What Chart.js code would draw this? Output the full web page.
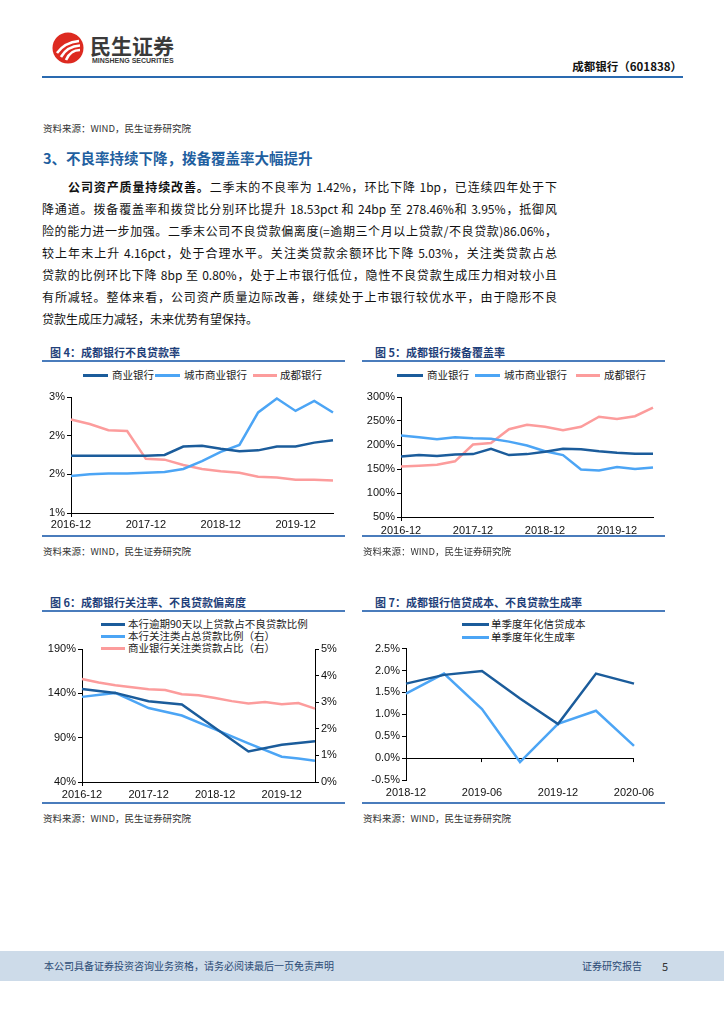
<!DOCTYPE html>
<html>
<head>
<meta charset="utf-8">
<script src="https://cdn.jsdelivr.net/npm/chart.js@4.4.1/dist/chart.umd.min.js"></script>
<style>
  body { margin: 0; width: 724px; height: 1024px; position: relative; background: #fff; overflow: hidden;
         font-family: "Noto Sans CJK SC", "Noto Sans", sans-serif; color: #111; }
  .abs { position: absolute; white-space: nowrap; }
  .rule { position: absolute; height: 2px; background: #4a7cbc; }
  .ctitle { position: absolute; font-size: 11px; font-weight: bold; color: #1f3f7a; line-height: 14px; }
  .src { position: absolute; font-size: 9.5px; color: #333; line-height: 12px; }
  .para { position: absolute; font-size: 12px; line-height: 16px; text-align: justify; text-align-last: justify; white-space: nowrap; }
  .lg { position: absolute; font-size: 10.5px; line-height: 14px; color: #222; white-space: nowrap; }
  .lg i { position: absolute; height: 3px; }
  canvas { position: absolute; }
</style>
</head>
<body>

<!-- header -->
<svg class="abs" style="left:52px;top:32px" width="32" height="32" viewBox="0 0 32 32">
  <circle cx="16" cy="16" r="15.5" fill="#dd2a20"/>
  <path d="M5 21 C10 14 17 10 27 9" stroke="#fff" stroke-width="2.6" fill="none"/>
  <path d="M9 25 C13 18 19 14 28 13.5" stroke="#fff" stroke-width="2.6" fill="none"/>
  <path d="M14 28 C17 21 21 18 28 18" stroke="#fff" stroke-width="2.6" fill="none"/>
</svg>
<div class="abs" style="left:90px;top:32px;font-size:21px;font-weight:bold;color:#3a3a3a;line-height:26px;">民生证券</div>
<div class="abs" style="left:92px;top:57px;font-size:7px;font-weight:bold;color:#3a3a3a;line-height:8px;font-family:'Liberation Sans',Arial,sans-serif;">MINSHENG SECURITIES</div>
<div class="abs" style="right:42px;top:58px;font-size:11.5px;font-weight:bold;color:#111;line-height:16px;">成都银行（601838）</div>
<div class="rule" style="left:42px;top:76px;width:641px;background:#2a6ab0;"></div>

<div class="src" style="left:43px;top:122px;">资料来源：WIND，民生证券研究院</div>

<!-- section text -->
<div class="abs" style="left:43px;top:148px;font-size:14.5px;font-weight:bold;color:#1f5fa0;line-height:20px;">3、不良率持续下降，拨备覆盖率大幅提升</div>

<div class="para" style="left:68px;width:489px;top:179px;"><b>公司资产质量持续改善。</b>二季末的不良率为 1.42%，环比下降 1bp，已连续四年处于下</div>
<div class="para" style="left:42px;width:515px;top:201px;">降通道。拨备覆盖率和拨贷比分别环比提升 18.53pct 和 24bp 至 278.46%和 3.95%，抵御风</div>
<div class="para" style="left:42px;width:515px;top:223px;">险的能力进一步加强。二季末公司不良贷款偏离度(=逾期三个月以上贷款/不良贷款)86.06%，</div>
<div class="para" style="left:42px;width:515px;top:245px;">较上年末上升 4.16pct，处于合理水平。关注类贷款余额环比下降 5.03%，关注类贷款占总</div>
<div class="para" style="left:42px;width:515px;top:267px;">贷款的比例环比下降 8bp 至 0.80%，处于上市银行低位，隐性不良贷款生成压力相对较小且</div>
<div class="para" style="left:42px;width:515px;top:289px;">有所减轻。整体来看，公司资产质量边际改善，继续处于上市银行较优水平，由于隐形不良</div>
<div class="para" style="left:42px;top:311px;text-align:left;text-align-last:left;">贷款生成压力减轻，未来优势有望保持。</div>

<!-- figure 4 / 5 frames -->
<div class="ctitle" style="left:50px;top:345px;">图 4：成都银行不良贷款率</div>
<div class="rule" style="left:42px;top:360px;width:303px;"></div>
<div class="lg" style="left:112px;top:368px;"><i style="left:-29px;top:6px;width:25px;background:#1b5c9b"></i>商业银行</div>
<div class="lg" style="left:184px;top:368px;"><i style="left:-29px;top:6px;width:25px;background:#4ca5f5"></i>城市商业银行</div>
<div class="lg" style="left:280px;top:368px;"><i style="left:-27px;top:6px;width:24px;background:#fc9c9c"></i>成都银行</div>
<canvas id="fig4" width="300" height="150" style="left:40px;top:385px;"></canvas>
<div class="rule" style="left:42px;top:535px;width:303px;"></div>
<div class="src" style="left:43px;top:545px;">资料来源：WIND，民生证券研究院</div>

<div class="ctitle" style="left:375px;top:345px;">图 5：成都银行拨备覆盖率</div>
<div class="rule" style="left:362px;top:360px;width:303px;"></div>
<div class="lg" style="left:427px;top:368px;"><i style="left:-30px;top:6px;width:26px;background:#1b5c9b"></i>商业银行</div>
<div class="lg" style="left:504px;top:368px;"><i style="left:-29px;top:6px;width:25px;background:#4ca5f5"></i>城市商业银行</div>
<div class="lg" style="left:604px;top:368px;"><i style="left:-28px;top:6px;width:24px;background:#fc9c9c"></i>成都银行</div>
<canvas id="fig5" width="305" height="155" style="left:355px;top:385px;"></canvas>
<div class="rule" style="left:362px;top:535px;width:303px;"></div>
<div class="src" style="left:363px;top:545px;">资料来源：WIND，民生证券研究院</div>

<!-- figure 6 / 7 frames -->
<div class="ctitle" style="left:50px;top:595px;">图 6：成都银行关注率、不良贷款偏离度</div>
<div class="rule" style="left:42px;top:610px;width:303px;"></div>
<div class="lg" style="left:128px;top:617px;"><i style="left:-27px;top:6px;width:24px;background:#1b5c9b"></i>本行逾期90天以上贷款占不良贷款比例</div>
<div class="lg" style="left:128px;top:629px;"><i style="left:-27px;top:6px;width:24px;background:#4ca5f5"></i>本行关注类占总贷款比例（右）</div>
<div class="lg" style="left:128px;top:641px;"><i style="left:-27px;top:6px;width:24px;background:#fc9c9c"></i>商业银行关注类贷款占比（右）</div>
<canvas id="fig6" width="300" height="160" style="left:40px;top:640px;"></canvas>
<div class="rule" style="left:42px;top:802px;width:303px;"></div>
<div class="src" style="left:43px;top:812px;">资料来源：WIND，民生证券研究院</div>

<div class="ctitle" style="left:375px;top:595px;">图 7：成都银行信贷成本、不良贷款生成率</div>
<div class="rule" style="left:362px;top:610px;width:303px;"></div>
<div class="lg" style="left:491px;top:617px;"><i style="left:-29px;top:6px;width:27px;background:#1b5c9b"></i>单季度年化信贷成本</div>
<div class="lg" style="left:491px;top:630px;"><i style="left:-29px;top:6px;width:27px;background:#4ca5f5"></i>单季度年化生成率</div>
<canvas id="fig7" width="300" height="160" style="left:360px;top:640px;"></canvas>
<div class="rule" style="left:362px;top:802px;width:303px;"></div>
<div class="src" style="left:363px;top:812px;">资料来源：WIND，民生证券研究院</div>

<!-- footer -->
<div class="abs" style="left:0;top:951px;width:724px;height:30px;background:#cddbe9;"></div>
<div class="abs" style="left:44px;top:959px;font-size:10px;line-height:14px;color:#2b4a75;">本公司具备证券投资咨询业务资格，请务必阅读最后一页免责声明</div>
<div class="abs" style="left:582px;top:959px;font-size:10px;line-height:14px;color:#2b4a75;">证券研究报告</div>
<div class="abs" style="left:662px;top:959px;font-size:11px;line-height:14px;color:#333;">5</div>

<script>
  // Quarter-end categories.
  var quarters = ['2016-12', '2017-03', '2017-06', '2017-09', '2017-12', '2018-03', '2018-06', '2018-09',
    '2018-12', '2019-03', '2019-06', '2019-09', '2019-12', '2020-03', '2020-06'];

  // Fig 4: NPL ratio (%).
  var nplCommercial = [1.74, 1.74, 1.74, 1.74, 1.74, 1.75, 1.86, 1.87, 1.83, 1.80, 1.81, 1.86, 1.86, 1.91, 1.94];
  var nplCity = [1.48, 1.50, 1.51, 1.51, 1.52, 1.53, 1.57, 1.67, 1.79, 1.88, 2.30, 2.48, 2.32, 2.45, 2.30];
  var nplChengdu = [2.21, 2.15, 2.07, 2.06, 1.70, 1.69, 1.62, 1.57, 1.54, 1.52, 1.47, 1.46, 1.43, 1.43, 1.42];

  // Fig 5: provision coverage (%).
  var covCommercial = [176, 179, 177, 180, 181, 192, 179, 181, 186, 192, 191, 187, 184, 182, 182];
  var covCity = [220, 216, 212, 216, 214, 213, 207, 199, 187, 179, 149, 147, 154, 150, 153];
  var covChengdu = [155, 157, 159, 166, 201, 204, 233, 242, 238, 231, 238, 259, 254, 260, 278];

  // Fig 6: overdue 90d+ / NPL (%, left), special mention ratios (%, right).
  var overdueToNpl = [145, null, 140.5, null, 131, null, 127.5, null, 101, null, 74.5, null, 82, null, 86];
  var smlChengdu = [3.20, null, 3.35, null, 2.78, null, 2.50, null, 1.98, null, 1.45, null, 0.95, 0.88, 0.80];
  var smlCommercial = [3.87, 3.74, 3.64, 3.56, 3.49, 3.46, 3.30, 3.26, 3.16, 3.04, 2.95, 3.01, 2.92, 2.97, 2.76];

  // Fig 7: single quarter annualised (%).
  var quarters7 = ['2018-12', '2019-03', '2019-06', '2019-09', '2019-12', '2020-03', '2020-06'];
  var creditCost = [1.70, 1.90, 1.99, 1.36, 0.78, 1.93, 1.70];
  var nplFormation = [1.47, 1.93, 1.12, -0.09, 0.78, 1.08, 0.28];

  var DARK = '#1b5c9b', LIGHT = '#4ca5f5', PINK = '#fc9c9c';

  Chart.defaults.font.family = '"Liberation Sans", Arial, sans-serif';
  Chart.defaults.font.size = 11;
  Chart.defaults.color = '#111';
  Chart.defaults.animation = false;

  function series(data, color, axis) {
    var ds = { data: data, borderColor: color, backgroundColor: color, borderWidth: 2.5,
      pointRadius: 0, tension: 0, spanGaps: true };
    if (axis) ds.yAxisID = axis;
    return ds;
  }

  function fixWidth(w) { return function (scale) { scale.width = w; }; }
  function fixHeight(h) { return function (scale) { scale.height = h; }; }

  // Quarterly x axis: a label and a tick mark every four quarters.
  function yearAxis(height, pad) {
    return {
      afterFit: fixHeight(height),
      border: { color: '#000', width: 1 },
      grid: { drawOnChartArea: false, tickLength: 4,
        tickColor: function (ctx) { return ctx.index % 4 === 0 ? '#000' : 'rgba(0,0,0,0)'; } },
      ticks: { autoSkip: false, maxRotation: 0, padding: pad,
        callback: function (v, i) { return i % 4 === 0 ? this.getLabelForValue(v) : null; } }
    };
  }

  function valueAxis(width, min, max, step, fmt, pos) {
    return {
      position: pos || 'left', min: min, max: max, afterFit: fixWidth(width),
      border: { color: '#000', width: 1 },
      grid: { drawOnChartArea: false, tickLength: 4, tickColor: '#000' },
      ticks: { stepSize: step, padding: 2, callback: fmt }
    };
  }

  function baseOptions(pad, scales) {
    return {
      responsive: false,
      layout: { padding: pad },
      plugins: { legend: { display: false }, tooltip: { enabled: false } },
      scales: scales
    };
  }

  new Chart(document.getElementById('fig4'), {
    type: 'line',
    data: { labels: quarters, datasets: [
      series(nplCommercial, DARK), series(nplCity, LIGHT), series(nplChengdu, PINK)] },
    options: baseOptions({ top: 12, right: 7, left: 0, bottom: 0 }, {
      x: yearAxis(22, 1),
      y: valueAxis(31, 1, 2.5, 0.5, function (v) { return v.toFixed(0) + '%'; })
    })
  });

  new Chart(document.getElementById('fig5'), {
    type: 'line',
    data: { labels: quarters, datasets: [
      series(covCommercial, DARK), series(covCity, LIGHT), series(covChengdu, PINK)] },
    options: baseOptions({ top: 12, right: 7, left: 0, bottom: 0 }, {
      x: yearAxis(23, 3),
      y: valueAxis(46, 50, 300, 50, function (v) { return v + '%'; })
    })
  });

  new Chart(document.getElementById('fig6'), {
    type: 'line',
    data: { labels: quarters, datasets: [
      series(overdueToNpl, DARK, 'yL'), series(smlChengdu, LIGHT, 'yR'), series(smlCommercial, PINK, 'yR')] },
    options: baseOptions({ top: 9, right: 0, left: 0, bottom: 0 }, {
      x: yearAxis(18, 2),
      yL: valueAxis(42, 40, 190, 50, function (v) { return v + '%'; }),
      yR: valueAxis(25, 0, 5, 1, function (v) { return v + '%'; }, 'right')
    })
  });

  new Chart(document.getElementById('fig7'), {
    type: 'line',
    plugins: [
      {
        // Short tick marks hanging from the zero line under every labelled quarter.
        afterDatasetsDraw: function (chart) {
          var ctx = chart.ctx;
          var x = chart.scales.x;
          var y0 = chart.scales.y.getPixelForValue(0);
          ctx.save();
          ctx.strokeStyle = '#000';
          ctx.lineWidth = 1;
          ctx.beginPath();
          for (var i = 2; i < quarters7.length; i += 2) {
            var px = Math.round(x.getPixelForValue(i)) - 0.5;
            ctx.moveTo(px, y0);
            ctx.lineTo(px, y0 + 4);
          }
          ctx.stroke();
          ctx.restore();
        }
      }
    ],
    data: { labels: quarters7, datasets: [series(creditCost, DARK), series(nplFormation, LIGHT)] },
    options: baseOptions({ top: 7, right: 26, left: 0, bottom: 0 }, {
      x: {
        afterFit: fixHeight(20),
        border: { display: false },
        grid: { display: false, drawTicks: true, tickLength: 4 },
        ticks: { autoSkip: false, maxRotation: 0, padding: 2,
          callback: function (v, i) { return i % 2 === 0 ? this.getLabelForValue(v) : null; } }
      },
      y: {
        min: -0.5, max: 2.5, afterFit: fixWidth(46),
        border: { color: '#000', width: 1 },
        grid: { tickLength: 4, tickColor: '#000',
          color: function (ctx) { return ctx.tick && ctx.tick.value === 0 ? '#000' : 'rgba(0,0,0,0)'; } },
        ticks: { stepSize: 0.5, padding: 2, callback: function (v) { return v.toFixed(1) + '%'; } }
      }
    })
  });
</script>
</body>
</html>
